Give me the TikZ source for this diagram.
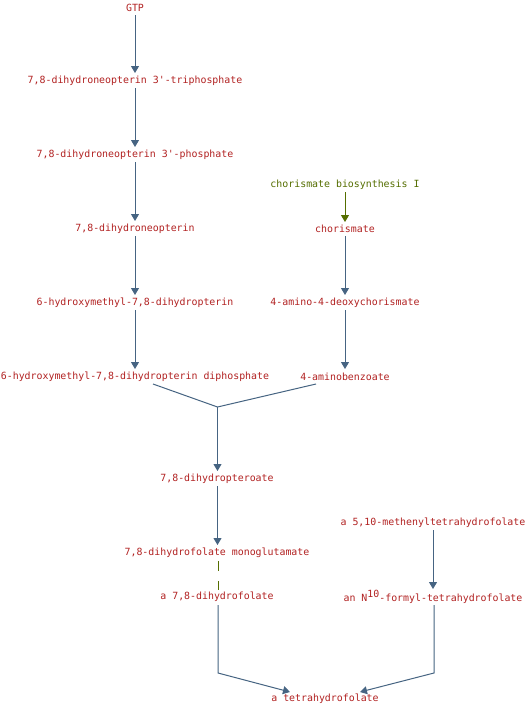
\documentclass[tikz,border=0pt]{standalone}
\usepackage{fontspec}
\setmonofont{DejaVu Sans Mono}
\usetikzlibrary{arrows.meta}
\definecolor{cpd}{RGB}{178,34,34}
\definecolor{rxn}{RGB}{70,100,130}
\definecolor{pwy}{RGB}{85,110,0}
\begin{document}
\begin{tikzpicture}[x=1pt,y=-1pt,
  cmp/.style={inner sep=0pt,text=cpd,font=\ttfamily\fontsize{9.9}{11}\selectfont},
  pw/.style={cmp,text=pwy},
  conn/.style={draw=rxn,line width=1pt},
  arr/.style={conn,-{Triangle[length=7pt,width=8pt]}},
  garr/.style={draw=pwy,line width=1pt,-{Triangle[length=7pt,width=8pt]}}]
\fill[white] (0,0) rectangle (527,705);
\useasboundingbox (0,0) rectangle (527,705);
\node[cmp] (gtp) at (135,8) {GTP};
\node[cmp] (tp) at (135,81) {7,8-dihydroneopterin 3'-triphosphate};
\node[cmp] (mp) at (135,155) {7,8-dihydroneopterin 3'-phosphate};
\node[cmp] (dn) at (135,229) {7,8-dihydroneopterin};
\node[cmp] (hm) at (135,303) {6-hydroxymethyl-7,8-dihydropterin};
\node[cmp] (hmd) at (135,377) {6-hydroxymethyl-7,8-dihydropterin diphosphate};
\node[pw] (cb) at (345,185) {chorismate biosynthesis I};
\node[cmp] (ch) at (345,229) {chorismate};
\node[cmp] (adc) at (345,303) {4-amino-4-deoxychorismate};
\node[cmp] (pab) at (345,377) {4-aminobenzoate};
\coordinate (J) at (217.5,407);
\node[cmp] (dhp) at (217,479) {7,8-dihydropteroate};
\node[cmp] (dhfm) at (217,553) {7,8-dihydrofolate monoglutamate};
\node[cmp] (dhf) at (217,597) {a 7,8-dihydrofolate};
\node[cmp] (mth) at (433,523) {a 5,10-methenyltetrahydrofolate};
\node[cmp] (fth) at (433,597) {an N\raisebox{3.5pt}{10}-formyl-tetrahydrofolate};
\node[cmp] (thf) at (325,699) {a tetrahydrofolate};
\coordinate (cl) at (218,673);
\coordinate (cr) at (434,673);
% arrows
\draw[arr] ([yshift=-7]gtp.center) -- ([yshift=8]tp.center);
\draw[arr] ([yshift=-7]tp.center) -- ([yshift=8]mp.center);
\draw[arr] ([yshift=-7]mp.center) -- ([yshift=8]dn.center);
\draw[arr] ([yshift=-7]dn.center) -- ([yshift=8]hm.center);
\draw[arr] ([yshift=-7]hm.center) -- ([yshift=8]hmd.center);
\draw[garr] ([yshift=-7]cb.center) -- ([yshift=7]ch.center);
\draw[arr] ([yshift=-7]ch.center) -- ([yshift=8]adc.center);
\draw[arr] ([yshift=-7]adc.center) -- ([yshift=8]pab.center);
\draw[conn] ([xshift=18,yshift=-7]hmd.center) -- (J);
\draw[conn] ([xshift=-29,yshift=-7]pab.center) -- (J);
\draw[arr] (J) -- ([xshift=0.5,yshift=8]dhp.center);
\draw[arr] ([xshift=0.5,yshift=-7]dhp.center) -- ([xshift=0.5,yshift=8]dhfm.center);
\draw[draw=pwy,line width=1pt,dash pattern=on 10pt off 10pt] ([xshift=1,yshift=-8]dhfm.center) -- ([xshift=1,yshift=7]dhf.center);
\draw[arr] ([yshift=-7]mth.center) -- ([yshift=8]fth.center);
\draw[arr] ([xshift=1,yshift=-8]dhf.center) -- (cl) -- ([xshift=-35,yshift=7]thf.center);
\draw[arr] ([xshift=1,yshift=-8]fth.center) -- (cr) -- ([xshift=35,yshift=7]thf.center);
\end{tikzpicture}
\end{document}
